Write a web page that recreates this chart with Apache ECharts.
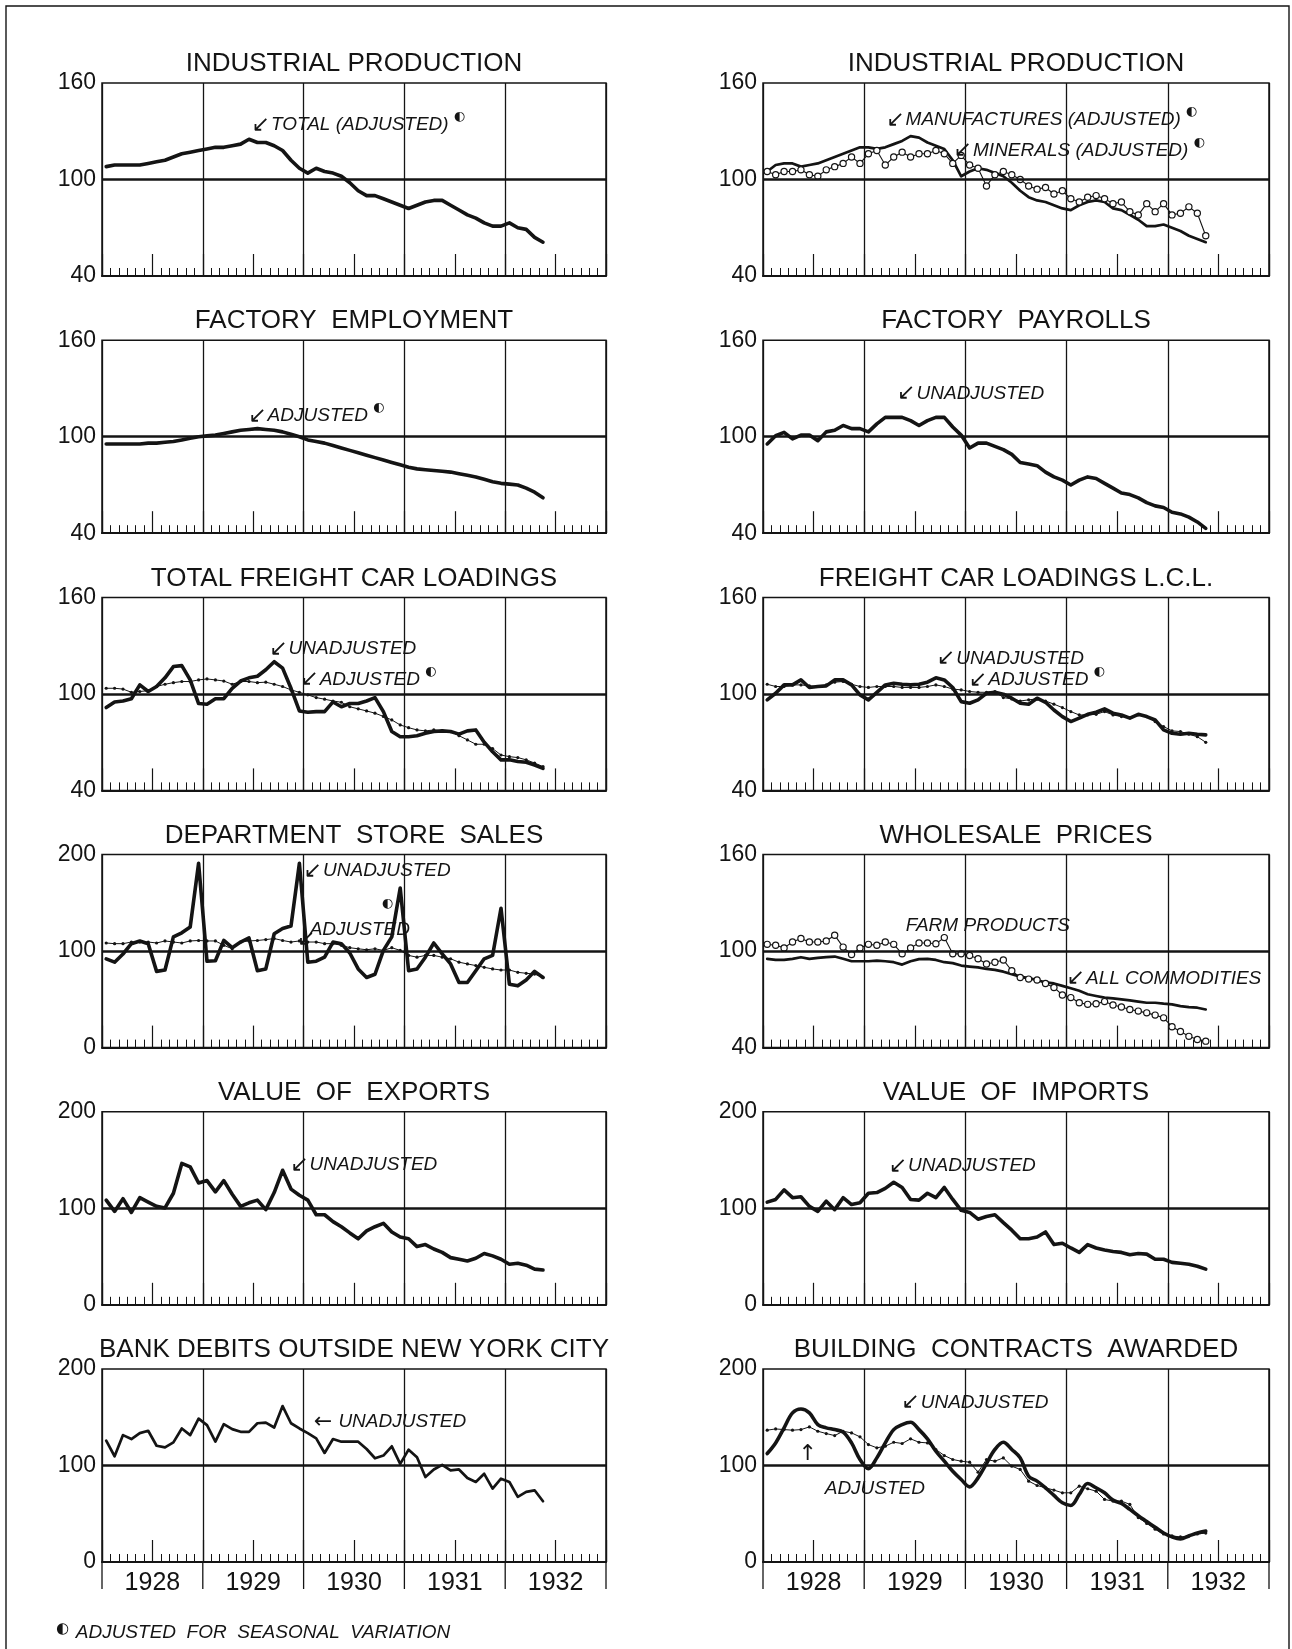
<!DOCTYPE html>
<html><head><meta charset="utf-8">
<script src="https://cdn.jsdelivr.net/npm/echarts/dist/echarts.min.js"></script>
<style>html,body{margin:0;padding:0;background:#fff}#c{width:1292px;height:1649px}</style>
</head><body><div id="c"></div>
<script>
// ---------------- DATA (monthly, Jan 1928 = index 0) ----------------
const YEARS = ['1928', '1929', '1930', '1931', '1932'];
const MONTH_COUNT = 60;
const REF_LINE = 100;

const industrialTotal = [108,109,109,109,109,110,111,112,114,116,117,118, 119,120,120,121,122,125,123,123,121,118,112,107, 104,107,105,104,102,98,93,90,90,88,86,84, 82,84,86,87,87,84,81,78,76,73,71,71, 73,70,69,64,61];
const manufactures = [105,109,110,110,108,109,110,112,114,116,118,120, 120,119,120,122,124,127,126,123,121,119,112,102, 105,107,106,104,102,98,93,89,87,86,84,82, 81,84,86,87,86,82,81,78,75,71,71,72, 70,68,65,63,61];
const minerals = [105,103,105,105,106,103,102,106,108,110,114,110, 116,118,109,114,117,114,116,116,118,116,110,115, 109,107,96,103,105,103,100,96,94,95,91,93, 88,86,89,90,88,85,86,80,78,85,80,85, 78,79,83,79,65];
const employment = [95.5,95.5,95.5,95.5,95.5,96,96,96.5,97,98,99,100, 100.5,101,102,103,104,104.5,105,104.5,104,103,101.5,100, 98,97,96,94.5,93,91.5,90,88.5,87,85.5,84,82.5, 81,80,79.5,79,78.5,78,77,76,75,73.5,72,71, 70.5,70,68,65.5,62];
const payrolls = [95.5,100.6,102.7,98.6,101,101,97.5,103,104,107,105,105, 103,108,112,112,112,110,107,110,112,112,106,101, 93,96,96,94,92,89,84,83,82,78,75,73, 70,73,75,74,71,68,65,64,62,59,57,56, 53,52,50,47,43];
const freightUnadj = [91.5,95,95.6,97,105.6,101.5,104.6,110,117,117.6,108.7,94, 93.6,97,97,103.5,108,110,111,115,120,116,103.5,89.4, 88.6,89,89,95,92,94,94,95.6,97.7,89,76.6,73.4, 73.4,74,75.5,76.6,77,76.6,75,77,77.6,70,64,59, 59,58,57.5,55.8,53.7];
const freightAdj = [103.5,103.5,103,101,101.5,102,104.6,106,107,107.7,107.7,108.7, 109.3,108.7,108,106,107.7,107.7,107,107.3,106,104.6,102.5,101, 99.4,97.7,96.7,95.6,94.8,92,90.7,89.4,88,86,83.8,80.7, 79,77.6,77,77.6,77,76.6,74,71.4,68.7,68.7,66,62, 61,60.4,59,57,54.8];
const lclUnadj = [96.3,100.4,105.6,105.6,108.7,104,104.6,105,108.7,108.7,105.6,99.4, 96.3,101,105.6,106.6,106,105.6,106,107.3,110,108.7,104,95.2, 94.2,96.3,100.4,101,99.8,97.3,94.2,93.6,97.3,94.8,90,85.9, 82.8,84.9,87.3,88.6,90.7,88,86.9,84.9,87.3,85.9,83.8,77.6, 75.5,74.9,75.5,74.9,74.5];
const lclAdj = [106,104.6,104.6,105.6,105.6,105,104.6,105.6,107.3,107.7,106,104.6, 104,104.6,104.6,104.6,104,104,104,104.6,105.6,104.6,103,102.5, 101.5,101,101,101.5,97.7,96.9,95.6,96.3,96.9,95.6,93.6,91.5, 89,86.9,86.9,87.3,89,86.9,85.9,85.3,86.9,85.9,82.8,79.7, 77,76.6,74.9,73.4,69.9];
const deptUnadj = [92,88.5,97,107.7,110.5,107.7,79,80.4,114.7,119,125,191, 89.5,90,111,103.5,109.4,113.6,79.7,81.5,118,123.4,126,191, 88.5,89.5,93.7,109.4,107.7,98,81.5,72.7,76,100.7,114.7,165.4, 79.7,81.5,93.7,108.4,97.2,86.7,67.5,67.5,79.7,92,95.5,144.4, 65.7,64,70,79,72.7];
const deptAdj = [108.4,107.7,107.7,109.4,109.4,109.4,108.4,110.5,109.4,108.4,110.5,111, 110.5,110.5,106,102.4,109.4,110.5,111,111.9,113,111,109.4,110.5, 109.4,109.4,107.7,107.7,106,103.5,102.4,101.4,102.4,100.7,103.5,100.7, 95.5,93.7,95.5,95.5,93.7,92,88.5,86.7,85,83.2,81.5,80.4, 80.4,78,77,76.2,72.7];
const allCommodities = [95.2,94.5,94.5,95.2,96.2,95.2,95.8,96.2,96.6,95.2,93.7,93.7, 93.7,94.1,93.7,93.1,91.6,93.7,95,95.2,94.5,93.1,92.5,91, 90.4,89.9,88.9,88.3,87.2,85.7,84.1,83.2,82,80.5,79.9,78.4, 76.9,75.3,73.2,72.1,71.1,70.6,70,69.4,68.6,67.9,67.9,67.3, 66.9,65.8,65.2,64.8,63.7];
const farmProducts = [104.2,103.6,102,105.7,107.8,105.7,105.7,106.3,109.9,102.5,97.9,102, 104.2,103.6,105.7,104.2,98.3,102,105,105,104.6,108.4,98.3,98.3, 97.3,95.2,92,93.1,94.5,87.8,83.6,82.6,82,79.9,77.4,72.7, 71.1,67.9,66.9,67.3,68.6,66.5,65.2,63.7,62.7,61.6,60.2,58.5, 53,50,47,45,44];
const exportsValue = [108.5,96.8,110,95.7,111,106.4,102,100.4,115.6,146.5,143,126.2, 128.7,117,128.7,114.5,102,105.7,108.5,98.6,116.3,139.4,119.9,113.5, 108.5,93.3,93.3,86.2,80.9,74.5,68.4,76.6,80.9,84.4,75.5,70.2, 68.4,60.3,62.4,57.8,54.3,48.9,47.2,45.4,48.2,53.2,50.7,47.2, 42,43,41,37,36];
const importsValue = [106.4,109.2,119.1,111,112,102,96.8,107.4,98.6,111,103.9,105.7, 115.6,116.3,120.6,127,121.6,109.2,108.5,115.6,111,121.6,109.2,97.9, 95.7,88.7,91.5,93.3,85.1,77.3,68.4,68.4,70.2,75.5,62.4,63.8, 58.9,54.3,62.4,58.9,56.7,55.3,54.3,51.8,53.2,52.5,47.2,47.2, 44,43,42,40,37];
const bankDebits = [125.7,109.6,131.5,127.4,133.6,136,120.5,118.8,124,138.4,131.5,148.6, 141.8,124.7,142.8,137.7,134.9,134.9,143.8,144.5,139.4,161.6,143.8,138.4, 133.6,128.1,113,127.4,124.7,124.7,124.7,117.1,107.5,110.3,119.9,101.7, 116.4,108.6,88,95.9,100.7,94.9,95.9,87,82.9,91.4,76,86.3, 82.9,67.5,72.6,74.3,63];
const buildingUnadj = [112.4,123.4,139,154.5,158.6,154.5,142.4,139,137.2,134.5,123.4,106.2, 96.6,107.9,123.4,137.2,142.4,144.8,137.2,127.6,114.8,104.5,94.1,85.5, 77.9,87.2,102,116.6,124.1,116.6,107.9,88.9,83.8,76.9,69,61.4, 58.6,70,81.4,76.9,71.7,64.1,60.7,54.5,48,42,36,30, 26,24,27,30,32];
const buildingAdj = [136.6,137.9,137.2,136.6,137.2,140,135.5,133.1,131,135.5,133.8,129.7, 121.7,118.3,120,124.1,122.8,127.6,124.1,123.4,116.6,110.3,106.2,104.5, 103.4,93.1,106.2,104.5,107.9,99.3,95.9,83.8,79.3,76.9,74.5,71.7, 71.7,78.6,75.9,73.4,64.8,63.1,63.1,59.7,46,40,34,29, 27,26,27,29,30];

// ---------------- PANELS ----------------
const panels = [
  { title: 'INDUSTRIAL PRODUCTION', yMin: 40, yMax: 160,
    series: [{ data: industrialTotal, kind: 'thick' }],
    notes: [{ x: 17.8, y: 134, arrow: '↙', text: 'TOTAL (ADJUSTED)', sup: true }] },
  { title: 'INDUSTRIAL PRODUCTION', yMin: 40, yMax: 160,
    series: [{ data: manufactures, kind: 'medium' }, { data: minerals, kind: 'circles' }],
    notes: [{ x: 14.6, y: 137, arrow: '↙', text: 'MANUFACTURES (ADJUSTED)', sup: true },
            { x: 22.6, y: 118, arrow: '↙', text: 'MINERALS (ADJUSTED)', sup: true }] },
  { title: 'FACTORY  EMPLOYMENT', yMin: 40, yMax: 160,
    series: [{ data: employment, kind: 'thick' }],
    notes: [{ x: 17.4, y: 113, arrow: '↙', text: 'ADJUSTED', sup: true }] },
  { title: 'FACTORY  PAYROLLS', yMin: 40, yMax: 160,
    series: [{ data: payrolls, kind: 'thick' }],
    notes: [{ x: 15.9, y: 127, arrow: '↙', text: 'UNADJUSTED' }] },
  { title: 'TOTAL FREIGHT CAR LOADINGS', yMin: 40, yMax: 160,
    series: [{ data: freightUnadj, kind: 'thick' }, { data: freightAdj, kind: 'dots' }],
    notes: [{ x: 19.9, y: 128, arrow: '↙', text: 'UNADJUSTED' },
            { x: 23.6, y: 109, arrow: '↙', text: 'ADJUSTED', sup: true }] },
  { title: 'FREIGHT CAR LOADINGS L.C.L.', yMin: 40, yMax: 160,
    series: [{ data: lclUnadj, kind: 'thick' }, { data: lclAdj, kind: 'dots' }],
    notes: [{ x: 20.6, y: 122, arrow: '↙', text: 'UNADJUSTED' },
            { x: 24.4, y: 108.6, arrow: '↙', text: 'ADJUSTED', sup: true }] },
  { title: 'DEPARTMENT  STORE  SALES', yMin: 0, yMax: 200,
    series: [{ data: deptUnadj, kind: 'thick' }, { data: deptAdj, kind: 'dots' }],
    notes: [{ x: 24.0, y: 183, arrow: '↙', text: 'UNADJUSTED' },
            { x: 24.6, y: 122, arrow: '', text: 'ADJUSTED' },
            { x: 32.6, y: 141, arrow: '', text: '', sup: true },
            { x: 23.2, y: 112, arrow: '↙', text: '' }] },
  { title: 'WHOLESALE  PRICES', yMin: 40, yMax: 160,
    series: [{ data: allCommodities, kind: 'medium' }, { data: farmProducts, kind: 'circles' }],
    notes: [{ x: 16.8, y: 115.7, arrow: '', text: 'FARM PRODUCTS' },
            { x: 36.0, y: 83, arrow: '↙', text: 'ALL COMMODITIES' }] },
  { title: 'VALUE  OF  EXPORTS', yMin: 0, yMax: 200,
    series: [{ data: exportsValue, kind: 'thick' }],
    notes: [{ x: 22.4, y: 145, arrow: '↙', text: 'UNADJUSTED' }] },
  { title: 'VALUE  OF  IMPORTS', yMin: 0, yMax: 200,
    series: [{ data: importsValue, kind: 'thick' }],
    notes: [{ x: 14.9, y: 144, arrow: '↙', text: 'UNADJUSTED' }] },
  { title: 'BANK DEBITS OUTSIDE NEW YORK CITY', yMin: 0, yMax: 200,
    series: [{ data: bankDebits, kind: 'medium' }],
    notes: [{ x: 25.2, y: 145, arrow: '←', text: ' UNADJUSTED' }] },
  { title: 'BUILDING  CONTRACTS  AWARDED', yMin: 0, yMax: 200,
    series: [{ data: buildingUnadj, kind: 'thick', smooth: true }, { data: buildingAdj, kind: 'dots' }],
    notes: [{ x: 16.4, y: 165, arrow: '↙', text: 'UNADJUSTED' },
            { x: 7.2, y: 76, arrow: '', text: 'ADJUSTED' },
            { x: 4.2, y: 112, arrow: '↑', text: '' }] }
];

// ---------------- LAYOUT ----------------
const COL_LEFT = [102, 763];
const COL_WIDTH = [504, 506];
const ROW_TOP0 = 83;
const ROW_STEP = 257.2;
const PLOT_H = 193;
const INK = '#141414';
const F_SANS = '"Liberation Sans", Arial, sans-serif';
const F_NOTE = '"Liberation Sans Narrow", "Liberation Sans", "DejaVu Sans", sans-serif';

const chart = echarts.init(document.getElementById('c'), null, { renderer: 'canvas' });

const grids = [], xAxes = [], yAxes = [], series = [];
panels.forEach((p, k) => {
  const r = Math.floor(k / 2), c = k % 2;
  const isBottom = r === 5;
  grids.push({ left: COL_LEFT[c], top: ROW_TOP0 + r * ROW_STEP, width: COL_WIDTH[c], height: PLOT_H,
    show: true, borderColor: INK, borderWidth: 1.5, backgroundColor: 'transparent' });
  xAxes.push({
    gridIndex: k, type: 'value', min: 0, max: MONTH_COUNT, interval: 6, position: 'bottom',
    axisLine: { show: true, onZero: false, lineStyle: { color: INK, width: 2 } },
    axisTick: { show: true, inside: true, length: 22, lineStyle: { color: INK, width: 1.2 } },
    minorTick: { show: true, splitNumber: 6, length: 8, lineStyle: { color: INK, width: 1 } },
    axisLabel: { show: isBottom, margin: 9, fontSize: 25, color: INK, fontFamily: F_SANS,
      formatter: v => (v % 12 === 6 ? YEARS[(v - 6) / 12] : '') },
    splitLine: { show: false }, minorSplitLine: { show: false }
  });
  xAxes.push({
    gridIndex: k, type: 'category', data: YEARS, position: 'top', boundaryGap: true,
    axisLine: { show: false }, axisTick: { show: false }, axisLabel: { show: false },
    splitLine: { show: true, interval: 0, lineStyle: { color: INK, width: 1.3 } }
  });
  yAxes.push({
    gridIndex: k, type: 'value', min: p.yMin, max: p.yMax,
    axisLine: { show: false }, axisTick: { show: false }, splitLine: { show: false },
    axisLabel: { customValues: [p.yMin, REF_LINE, p.yMax], fontSize: 23, color: INK, margin: 6, fontFamily: F_SANS }
  });
  p.series.forEach((s, j) => {
    const base = {
      type: 'line', xAxisIndex: 2 * k, yAxisIndex: k,
      data: s.data.map((v, i) => [i + 0.5, v]),
      smooth: s.smooth ? 0.35 : false, silent: true, z: 3 + j
    };
    if (s.kind === 'thick') {
      Object.assign(base, { symbol: 'none', lineStyle: { color: INK, width: 3.6, join: 'round', cap: 'round' } });
    } else if (s.kind === 'medium') {
      Object.assign(base, { symbol: 'none', lineStyle: { color: INK, width: 2.7, join: 'round', cap: 'round' } });
    } else if (s.kind === 'dots') {
      Object.assign(base, { symbol: 'circle', symbolSize: 3.2, itemStyle: { color: INK },
        lineStyle: { color: INK, width: 1 } });
    } else if (s.kind === 'circles') {
      Object.assign(base, { symbol: 'circle', symbolSize: 6.2, itemStyle: { color: '#fff', borderColor: INK, borderWidth: 1.2 },
        lineStyle: { color: INK, width: 1.1 } });
    }
    if (j === 0) {
      base.markLine = { silent: true, symbol: 'none', animation: false, label: { show: false },
        lineStyle: { color: INK, width: 2.6, type: 'solid' }, data: [{ yAxis: REF_LINE }] };
      base.markPoint = {
        silent: true, animation: false, symbol: 'circle', symbolSize: 0,
        data: p.notes.map(n => ({
          coord: [n.x, n.y],
          label: {
            show: true, position: 'right', distance: 0,
            formatter: '{a|' + (n.arrow || '') + '}{t|' + (n.text || '') + '}' + (n.sup ? '{s|◐}' : ''),
            rich: {
              a: { fontSize: 22, color: INK, fontFamily: '"DejaVu Sans", sans-serif', padding: [0, 1, 0, 0] },
              t: { fontSize: 19, color: INK, fontStyle: 'italic', fontFamily: F_NOTE },
              s: { fontSize: 13, color: INK, fontFamily: '"DejaVu Sans", sans-serif', padding: [0, 0, 16, 5] }
            }
          }
        }))
      };
    }
    series.push(base);
  });
});

chart.setOption({
  animation: false,
  backgroundColor: '#fff',
  grid: grids, xAxis: xAxes, yAxis: yAxes, series: series
});

// ---------------- DECORATION: titles, year-line extensions, footnote, border ----------------
const graphics = [];
panels.forEach((p, k) => {
  const r = Math.floor(k / 2), c = k % 2;
  const cx = COL_LEFT[c] + COL_WIDTH[c] / 2;
  const top = ROW_TOP0 + r * ROW_STEP;
  graphics.push({ type: 'text', x: cx, y: top - 19, silent: true,
    style: { text: p.title, fill: INK, font: 'normal 26px ' + F_SANS, align: 'center', verticalAlign: 'middle' } });
  if (r === 5) {
    const yb = chart.convertToPixel({ yAxisIndex: k }, p.yMin);
    for (let v = 0; v <= MONTH_COUNT; v += 12) {
      const px = chart.convertToPixel({ xAxisIndex: 2 * k }, v);
      graphics.push({ type: 'line', silent: true,
        shape: { x1: px, y1: yb, x2: px, y2: yb + 27 }, style: { stroke: INK, lineWidth: 1.3 } });
    }
  }
});
graphics.push({ type: 'text', x: 56, y: 1633, silent: true,
  style: { text: '{s|◐}  {t|ADJUSTED  FOR  SEASONAL  VARIATION}', verticalAlign: 'middle',
    rich: { s: { fontSize: 15, fill: INK, fontFamily: '"DejaVu Sans", sans-serif', padding: [0, 0, 8, 0] },
            t: { fontSize: 19, fill: INK, fontStyle: 'italic', fontFamily: F_SANS } } } });
graphics.push({ type: 'polyline', silent: true,
  shape: { points: [[6, 1700], [6, 6], [1289, 6], [1289, 1700]] },
  style: { stroke: INK, lineWidth: 1.4, fill: null } });
chart.setOption({ graphic: graphics });
</script>
</body></html>
